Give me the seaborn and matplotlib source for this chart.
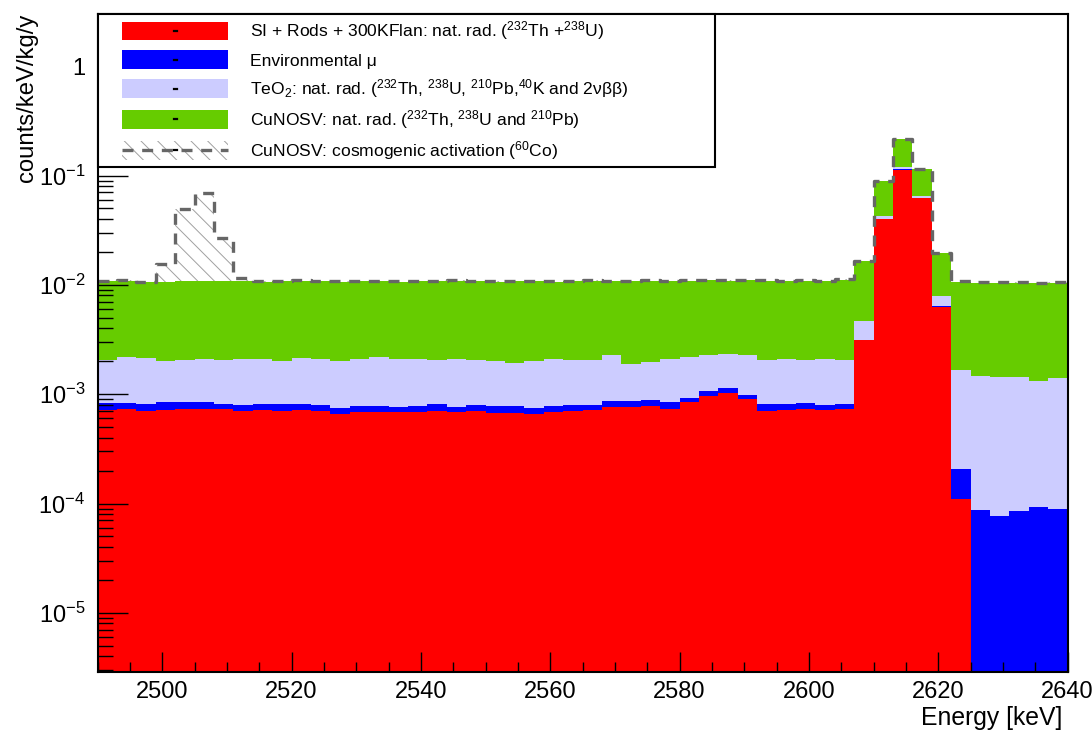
import numpy as np
import pandas as pd
import matplotlib
matplotlib.use("Agg")
import matplotlib.pyplot as plt
import matplotlib.transforms as mtransforms
import seaborn as sns
from matplotlib.patches import Rectangle, Patch
from matplotlib.lines import Line2D
from matplotlib.legend_handler import HandlerBase
from matplotlib.ticker import FixedLocator, LogLocator, NullFormatter, MultipleLocator

# ---------------- data (3 keV bins from 2490 to 2640 keV) ----------------
e_min, e_max, bin_width = 2490, 2640, 3

si_rods = [7.23e-4, 7.38e-4, 7.03e-4, 7.18e-4, 7.28e-4, 7.38e-4, 7.28e-4, 7.03e-4, 7.23e-4, 7.03e-4,
           7.23e-4, 6.98e-4, 6.55e-4, 6.83e-4, 6.83e-4, 6.83e-4, 6.88e-4, 7.03e-4, 6.88e-4, 6.98e-4,
           6.74e-4, 6.69e-4, 6.55e-4, 6.83e-4, 6.98e-4, 7.23e-4, 7.65e-4, 7.70e-4, 7.81e-4, 7.38e-4,
           8.44e-4, 9.71e-4, 1.027e-3, 8.98e-4, 7.08e-4, 7.23e-4, 7.38e-4, 7.13e-4, 7.38e-4, 3.11e-3,
           4.02e-2, 1.135e-1, 6.25e-2, 6.24e-3, 1.10e-4, 0.0, 0.0, 0.0, 0.0, 0.0]

env_mu = [1.10e-4, 1.00e-4, 1.17e-4, 1.26e-4, 1.27e-4, 1.17e-4, 0.92e-4, 0.89e-4, 0.97e-4, 1.17e-4,
          0.97e-4, 1.00e-4, 0.94e-4, 0.98e-4, 0.98e-4, 0.87e-4, 0.99e-4, 1.17e-4, 0.82e-4, 1.00e-4,
          1.07e-4, 1.12e-4, 0.99e-4, 0.98e-4, 0.94e-4, 0.80e-4, 0.96e-4, 0.91e-4, 0.99e-4, 1.12e-4,
          0.80e-4, 1.00e-4, 1.06e-4, 0.87e-4, 1.01e-4, 0.86e-4, 0.95e-4, 0.79e-4, 0.77e-4, 0.50e-4,
          1.00e-4, 1.00e-4, 1.00e-4, 1.30e-4, 0.98e-4, 8.79e-5, 7.75e-5, 8.50e-5, 9.31e-5, 8.93e-5]

teo2 = [1.240e-3, 1.355e-3, 1.342e-3, 1.172e-3, 1.189e-3, 1.262e-3, 1.224e-3, 1.296e-3, 1.297e-3, 1.196e-3,
        1.342e-3, 1.304e-3, 1.267e-3, 1.336e-3, 1.427e-3, 1.318e-3, 1.330e-3, 1.224e-3, 1.318e-3, 1.246e-3,
        1.235e-3, 1.165e-3, 1.262e-3, 1.336e-3, 1.267e-3, 1.270e-3, 1.442e-3, 1.045e-3, 1.094e-3, 1.238e-3,
        1.284e-3, 1.232e-3, 1.219e-3, 1.318e-3, 1.235e-3, 1.308e-3, 1.211e-3, 1.296e-3, 1.229e-3, 1.48e-3,
        2.2e-3, 5.4e-3, 3.0e-3, 1.50e-3, 1.447e-3, 1.372e-3, 1.362e-3, 1.355e-3, 1.217e-3, 1.321e-3]

cu_nat = [8.73e-3, 8.71e-3, 8.44e-3, 8.68e-3, 8.76e-3, 8.68e-3, 8.86e-3, 8.71e-3, 8.58e-3, 8.78e-3,
          8.74e-3, 8.70e-3, 8.68e-3, 8.68e-3, 8.59e-3, 8.61e-3, 8.68e-3, 8.76e-3, 8.81e-3, 8.76e-3,
          8.68e-3, 8.85e-3, 8.78e-3, 8.58e-3, 8.74e-3, 8.83e-3, 8.50e-3, 8.89e-3, 8.93e-3, 8.71e-3,
          8.69e-3, 8.70e-3, 8.55e-3, 8.70e-3, 8.86e-3, 8.68e-3, 8.86e-3, 8.71e-3, 9.14e-3, 1.18e-2,
          4.74e-2, 9.9e-2, 4.95e-2, 1.176e-2, 9.0e-3, 9.04e-3, 9.0e-3, 9.0e-3, 9.1e-3, 9.04e-3]

cu_co60 = [1.0e-4, 1.0e-4, 1.0e-4, 4.9e-3, 3.88e-2, 5.87e-2, 1.6e-2, 8.0e-4, 1.0e-4, 1.0e-4,
           1.0e-4, 1.0e-4, 1.0e-4, 1.0e-4, 1.0e-4, 1.0e-4, 1.0e-4, 1.0e-4, 1.0e-4, 1.0e-4,
           1.0e-4, 1.0e-4, 1.0e-4, 1.0e-4, 1.0e-4, 1.0e-4, 1.0e-4, 1.0e-4, 1.0e-4, 1.0e-4,
           1.0e-4, 1.0e-4, 1.0e-4, 1.0e-4, 1.0e-4, 1.0e-4, 1.0e-4, 1.0e-4, 1.0e-4, 1.0e-4,
           1.0e-4, 1.0e-4, 1.0e-4, 1.0e-4, 1.0e-4, 1.0e-4, 1.0e-4, 1.0e-4, 1.0e-4, 1.0e-4]

labels = {
    "si": "SI + Rods + 300KFlan: nat. rad. ($^{232}$Th +$^{238}$U)",
    "mu": "Environmental μ",
    "teo2": "TeO$_{2}$: nat. rad. ($^{232}$Th, $^{238}$U, $^{210}$Pb,$^{40}$K and 2νββ)",
    "cu": "CuNOSV: nat. rad. ($^{232}$Th, $^{238}$U and $^{210}$Pb)",
    "co": "CuNOSV: cosmogenic activation ($^{60}$Co)",
}
y_tick_vals = [1e-5, 1e-4, 1e-3, 1e-2, 1e-1, 1]
y_tick_labels = ["$10^{-5}$", "$10^{-4}$", "$10^{-3}$", "$10^{-2}$", "$10^{-1}$", "1"]

# ---------------- style ----------------
plt.rcParams["font.family"] = ["Liberation Sans", "DejaVu Sans"]
plt.rcParams["mathtext.fontset"] = "custom"
plt.rcParams["mathtext.rm"] = "Liberation Sans"
plt.rcParams["mathtext.it"] = "Liberation Sans:italic"
plt.rcParams["mathtext.bf"] = "Liberation Sans:bold"
plt.rcParams["hatch.linewidth"] = 0.7

colors = {"si": "#ff0000", "mu": "#0000ff", "teo2": "#ccccff", "cu": "#66cc00", "co": "#ffffff"}
hue_order = ["co", "cu", "teo2", "mu", "si"]   # first is stacked on top
dash_col = "#666666"
dash_style = (0, (3.3, 2.6))
hatch_pat = "\\\\"

edges = np.arange(e_min, e_max + bin_width, bin_width)
centers = edges[:-1] + bin_width / 2
series = {"si": si_rods, "mu": env_mu, "teo2": teo2, "cu": cu_nat, "co": cu_co60}
df = pd.concat([pd.DataFrame({"energy": centers, "rate": series[k], "source": k}) for k in hue_order],
               ignore_index=True)
total = np.sum([np.asarray(v) for v in series.values()], axis=0)

fig = plt.figure(figsize=(10.92, 7.39), dpi=100)
ax = fig.add_axes([0.0894, 0.0911, 0.8882, 0.8899])

sns.histplot(data=df, x="energy", weights="rate", hue="source", hue_order=hue_order,
             palette=colors, binwidth=bin_width, binrange=(e_min, e_max), multiple="stack",
             element="step", fill=True, alpha=1, linewidth=0, legend=False, ax=ax)

for coll in ax.collections:
    fc = coll.get_facecolor()
    if len(fc) and np.allclose(fc[0][:3], [1, 1, 1]):
        coll.set_hatch(hatch_pat)
        coll.set_edgecolor("#a0a0a0")
        coll.set_linewidth(0)

sns.histplot(x=centers, weights=total, binwidth=bin_width, binrange=(e_min, e_max),
             element="step", fill=False, color=dash_col, linewidth=2.4, linestyle=dash_style, ax=ax)

ax.set_yscale("log")
ax.set_xlim(e_min, e_max)
ax.set_ylim(2.9e-6, 3.0)

ax.xaxis.set_major_locator(MultipleLocator(20))
ax.xaxis.set_minor_locator(MultipleLocator(5))
ax.yaxis.set_major_locator(FixedLocator(y_tick_vals))
ax.set_yticklabels(y_tick_labels)
ax.yaxis.set_minor_locator(LogLocator(base=10, subs=np.arange(2, 10)))
ax.yaxis.set_minor_formatter(NullFormatter())

ax.tick_params(axis="x", which="major", direction="in", length=14.4, width=1.0, labelsize=17,
               bottom=True, top=False, pad=7, colors="black")
ax.tick_params(axis="x", which="minor", direction="in", length=7.2, width=1.0, bottom=True, top=False)
ax.tick_params(axis="y", which="major", direction="in", length=21.6, width=1.0, labelsize=17,
               left=True, right=False, pad=9, colors="black")
ax.tick_params(axis="y", which="minor", direction="in", length=10.8, width=1.0, left=True, right=False)
for sp in ax.spines.values():
    sp.set_linewidth(1.5)
    sp.set_color("black")
    sp.set_visible(True)

# keep the last x tick label (at the right frame edge) inside the figure
fig.canvas.draw()
last_lbl = [t for t in ax.get_xticklabels() if t.get_text()][-1]
last_lbl.set_transform(last_lbl.get_transform() +
                       mtransforms.ScaledTranslation(-4 / 100, 0, fig.dpi_scale_trans))

ax.set_xlabel("Energy [keV]", fontsize=17.8, loc="right")
ax.xaxis.set_label_coords(0.9942, -0.052)
ax.set_ylabel("counts/keV/kg/y", fontsize=17.2, loc="top")
ax.yaxis.set_label_coords(-0.061, 1.0)


class BoxHandler(HandlerBase):
    def __init__(self, face, hatch=None, dashed=False, lead=0.154):
        super().__init__()
        self.face, self.hatch, self.dashed, self.lead = face, hatch, dashed, lead

    def create_artists(self, legend, orig_handle, xdescent, ydescent, width, height, fontsize, trans):
        x0 = -xdescent + self.lead * width
        w = width * (1 - self.lead)
        y0 = -ydescent
        arts = []
        if self.hatch:
            arts.append(Rectangle((x0, y0), w, height, facecolor="white", edgecolor="#a0a0a0",
                                  hatch=self.hatch, linewidth=0, transform=trans))
        else:
            arts.append(Rectangle((x0, y0), w, height, facecolor=self.face, edgecolor="none",
                                  linewidth=0, transform=trans))
        if self.dashed:
            arts.append(Line2D([x0, x0 + w], [y0 + height / 2] * 2, color=dash_col, lw=2.4,
                               linestyle=dash_style, transform=trans))
        cx = x0 + w / 2
        arts.append(Line2D([cx - 1.3, cx + 1.3], [y0 + height / 2] * 2, color="black", lw=1.6,
                           transform=trans))
        return arts


legend_keys = ["si", "mu", "teo2", "cu", "co"]
handles = [Patch(label=labels[k]) for k in legend_keys]
hmap = {}
for h, k in zip(handles, legend_keys):
    if k == "co":
        hmap[h] = BoxHandler("white", hatch=hatch_pat, dashed=True)
    else:
        hmap[h] = BoxHandler(colors[k])

leg = ax.legend(handles=handles, labels=[labels[k] for k in legend_keys], handler_map=hmap,
                loc="upper left", bbox_to_anchor=(0, 1, 0.637, 0), mode="expand", borderaxespad=0,
                fontsize=12.6, handlelength=7.16, handleheight=1.26, handletextpad=1.26,
                labelspacing=0.46, borderpad=0.31, fancybox=False, framealpha=1, edgecolor="black")
leg.get_frame().set_linewidth(1.5)
leg.set_zorder(10)

fig.savefig("out.png", dpi=100)
